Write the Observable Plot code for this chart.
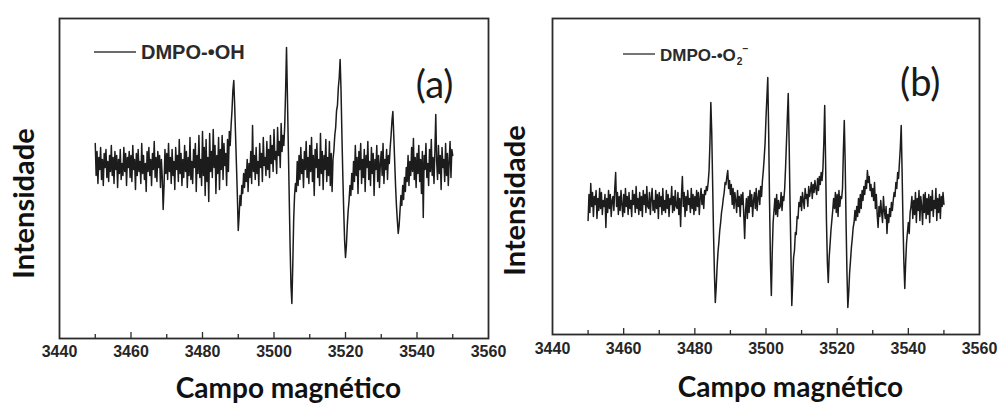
<!DOCTYPE html>
<html><head><meta charset="utf-8">
<script src="https://cdn.jsdelivr.net/npm/d3@7"></script>
<script src="https://cdn.jsdelivr.net/npm/@observablehq/plot@0.6"></script>
<style>
html,body{margin:0;padding:0;background:#fff;}
body{width:998px;height:403px;overflow:hidden;position:relative;}
#pa{position:absolute;left:0;top:0;}
#pb{position:absolute;left:500px;top:0;}
</style></head>
<body><div id="pa"></div><div id="pb"></div>
<script>
// Sampling grid of the field sweep (G)
const fieldStart = 3450;
const fieldStep = 0.25;
const xTickLabels = [3440, 3460, 3480, 3500, 3520, 3540, 3560];
const xMinorTicks = [3450, 3470, 3490, 3510, 3530, 3550];
const xMajorTicks = [3460, 3480, 3500, 3520, 3540];
const xTitle = "Campo magnético";
const yTitle = "Intensidade";

// (a) DMPO-•OH spectrum (arbitrary intensity units)
const intensityA = [
  22, -10, 14, -18, 8, -4, 18, -14, 6, -20, 12, -2, 16, -12, 4, -16, 10, -6, 20, -10,
  8, -18, 14, -4, 10, -22, 6, -8, 16, -14, 2, -10, 18, -6, 12, -20, 8, -2, 14, -12,
  10, -16, 20, -4, 6, -24, 12, -10, 16, -6, 4, -18, 22, -8, 10, -14, 2, -26, 14, -6,
  18, -10, 6, -20, 12, -4, 24, -12, 8, -16, 14, -2, 10, -22, 6, -12, -44, -20, 16, -8,
  12, -14, 22, -6, 8, -18, 16, -10, 4, -24, 18, -4, 10, -16, 26, -8, 12, -20, 6, -12,
  20, -6, 14, -22, 8, -10, 28, -14, 4, -18, 16, -2, 22, -26, 10, -8, 30, -12, 6, -20,
  34, -10, 18, -30, 26, -16, 8, -36, 32, -6, 14, -12, 36, -2, 20, -28, 10, -8, 28, -24,
  16, -4, 30, -14, 22, 0, 12, -20, 26, -6, 34, 20, 40, 55, 75, 85, 60, 30, 0, -30,
  -65, -50, -30, -40, -20, -28, -8, -22, -4, -16, 6, -26, 2, -12, 14, -18, 40, -6, 10, -14,
  18, -8, 4, -20, 22, -2, 12, -16, 28, 0, 8, -10, 24, -4, 16, -12, 30, 2, 20, -6,
  36, 6, 14, -8, 38, 10, 24, -2, 42, 14, 30, 20, 40, 75, 118, 70, 20, -30, -80, -120,
  -138, -100, -55, -30, -18, -26, 4, -20, 10, -14, 18, -8, 6, -22, 14, -4, 24, -12, 8, -18,
  20, -6, 28, -16, 10, -30, 16, -2, 22, -12, 6, -20, 32, -8, 14, -24, 10, -4, 26, -16,
  8, -10, 24, -20, 12, -26, 6, 15, 30, 38, 55, 60, 78, 88, 106, 75, 30, -10, -45, -75,
  -92, -80, -60, -45, -35, -20, -30, -8, -24, 4, -16, 20, -10, 8, -28, 14, -4, 22, -18, 6,
  -12, 16, -26, 10, -2, 24, -14, 4, -20, 18, -8, 12, -30, 6, -4, 20, -16, 10, -22, 2,
  14, -10, 22, -18, 6, -4, 16, -14, 10, 2, 18, 30, 45, 54, 30, 5, -20, -40, -55, -68,
  -60, -45, -30, -40, -20, -34, -12, -26, -2, -16, 10, -20, 4, -10, 18, -6, 27, -14, 8, -22,
  12, -8, 20, -16, 6, -28, 14, -52, 10, -4, 22, -12, 2, -20, 16, -6, 26, -10, 8, -18,
  14, 51, 4, -14, 20, -8, 10, -24, 18, -2, 6, -16, 22, -10, 12, -20, 4, 24, -12, 16,
  10
];

// (b) DMPO-•O2− spectrum
const intensityB = [
  -18, 8, -10, 19, -4, 10, -14, 6, -2, 12, -16, 4, -8, 14, -6, 10, -12, 2, -4, 8,
  -25, 4, -10, 12, -6, 8, -14, 2, 6, -8, 14, 30, -4, 10, -12, 6, -8, 12, -2, -14,
  8, -10, 14, -4, 6, -12, 10, -6, 2, -14, 12, -2, 8, -10, 16, -6, 4, -12, 10, -8,
  6, -14, 12, -2, 8, -10, 16, -4, -6, 10, -12, 4, 14, -8, 2, -10, 12, -6, 8, -16,
  10, -4, 6, -12, 14, -8, 2, -10, 12, -6, 8, -14, 4, -2, 16, -10, 6, -8, 12, -4,
  -6, 10, -12, 4, -24, 8, 26, -4, 10, -14, 6, -8, 12, -2, 4, -10, 14, -6, 8, -12,
  6, -8, 12, -4, 10, -12, 4, 14, -2, 8, -6, 12, 8, 16, 12, 20, 32, 60, 100, 70,
  20, -30, -70, -100, -85, -65, -50, -40, -28, -20, -10, -4, 4, 10, 20, 18, 26, 32, 14, 22,
  8, 18, -2, 14, -6, 10, 2, -10, 12, -4, 6, -14, 8, -2, 10, -12, -36, -8, 4, -16,
  6, -10, 12, -4, 8, -14, 2, 10, -6, 14, -8, 4, 12, -2, 16, 6, 22, 32, 45, 60,
  85, 105, 125, 70, 0, -60, -93, -50, -20, -8, 4, -12, 8, -14, 2, -6, -4, 10, -8, 6,
  2, 14, 35, 60, 85, 109, 60, 0, -50, -103, -80, -55, -48, -30, -32, -14, -16, 0, -4, 6,
  -8, 10, 2, -6, 14, 4, 8, -4, 16, 6, 12, 20, 4, 18, 10, 22, 14, 8, 24, 12,
  26, 18, 30, 22, 34, 60, 97, 40, -20, -60, -80, -55, -42, -28, -18, -8, 4, -6, 10, -10,
  8, -14, 12, -4, 6, 4, 14, 52, 82, 40, -20, -70, -105, -90, -70, -58, -45, -36, -25, -20,
  -8, -18, -4, -14, 4, -10, 8, -6, 12, 2, 16, 8, 22, 14, 32, 20, 26, 12, 18, 6,
  14, 2, 20, -6, 8, -12, -25, -4, -14, 2, -10, -20, 6, -8, -16, -4, -31, -12, -20, -6,
  -14, 0, -8, 2, 10, 6, 20, 14, 30, 24, 40, 55, 77, 30, -20, -60, -86, -60, -40, -30,
  -20, -31, -10, -4, 6, -16, 2, -12, 10, -20, 4, -8, 12, -18, 6, -4, -22, 8, -10, 10,
  -16, 4, -12, 8, -20, 6, -8, 12, -14, 2, -6, 14, -18, 4, -10, 8, -16, 6, -4, 10,
  -2
];

const legendA = [{text: "DMPO-•OH"}];
const legendB = [{text: "DMPO-•O"}, {text: "2", sub: true}, {text: "−", sup: true}];

function legendMark(cfg, parts) {
  return (index, scales, values, dim) => {
    const x0 = dim.marginLeft + cfg.dx, y0 = dim.marginTop + cfg.dy;
    const g = d3.create("svg:g");
    g.append("line").attr("x1", x0).attr("x2", x0 + cfg.len).attr("y1", y0).attr("y2", y0)
      .attr("stroke", "#3a3a3a").attr("stroke-width", 1.4);
    const t = g.append("text").attr("x", x0 + cfg.len + 5).attr("y", y0 + cfg.base)
      .attr("text-anchor", "start")
      .attr("font-family", "'Liberation Sans', Arial, sans-serif").attr("font-weight", "bold")
      .attr("font-size", cfg.size).attr("fill", "#2a2a2a");
    for (const p of parts) {
      const s = t.append("tspan").text(p.text);
      if (p.sub) s.attr("font-size", cfg.size * 0.6).attr("dy", 4).attr("dx", 1);
      if (p.sup) s.attr("font-size", cfg.size * 0.6).attr("dy", -13).attr("dx", 0);
    }
    return g.node();
  };
}

function panel(cfg) {
  const innerH = 403 - 18 - cfg.mb;
  return Plot.plot({
    width: cfg.width, height: 403,
    marginLeft: cfg.ml, marginRight: cfg.mr, marginTop: 18, marginBottom: cfg.mb,
    style: {background: "transparent", overflow: "visible", maxWidth: "none", color: "#262626",
      fontFamily: "'Liberation Sans', Arial, sans-serif"},
    x: {domain: [3440, 3560]},
    y: {domain: cfg.yDomain, axis: null},
    marks: [
      Plot.line(cfg.values, {x: (d, i) => fieldStart + i * fieldStep, y: d => d,
        stroke: "#1c1c1c", strokeWidth: 1.5}),
      Plot.frame({stroke: "#2b2b2b", strokeWidth: 1.8}),
      Plot.tickX(xMinorTicks, {x: d => d, insetTop: innerH - 4, stroke: "#2b2b2b", strokeWidth: 1.3}),
      Plot.tickX(xMajorTicks, {x: d => d, insetTop: innerH - 6, stroke: "#2b2b2b", strokeWidth: 1.3}),
      Plot.axisX({ticks: xTickLabels, tickSize: 0, tickPadding: cfg.tp, tickFormat: d => String(d),
        fontSize: 16, fontWeight: "bold", label: null}),
      Plot.text([xTitle], {text: d => d, frameAnchor: "bottom", textAnchor: "middle", lineAnchor: "middle",
        dx: cfg.xt[0], dy: cfg.xt[1], fontSize: 28, fontWeight: "bold", fontFamily: "Lato", fill: "#111"}),
      Plot.text([yTitle], {text: d => d, frameAnchor: "left", textAnchor: "middle", lineAnchor: "middle",
        rotate: -90, dx: cfg.yt[0], dy: cfg.yt[1],
        fontSize: 29, fontWeight: "bold", fontFamily: "Lato", fill: "#111"}),
      Plot.text([cfg.tag], {text: d => d, frameAnchor: "top-right", textAnchor: "end", lineAnchor: "middle",
        dx: cfg.tg[0], dy: cfg.tg[1], fontSize: 38, fontFamily: "Lato", fill: "#1a1a1a"}),
      legendMark(cfg.leg, cfg.legend)
    ]
  });
}

document.getElementById("pa").append(panel({
  width: 520, ml: 59, mr: 32, mb: 65, tp: 7, values: intensityA, yDomain: [-173, 147],
  xt: [14.5, 51], yt: [-35, 25], tag: "(a)", tg: [-35, 67],
  leg: {dx: 35, dy: 34, len: 42, base: 7, size: 20}, legend: legendA
}));
document.getElementById("pb").append(panel({
  width: 498, ml: 52, mr: 19, mb: 69, tp: 8, values: intensityB, yDomain: [-132, 184],
  xt: [24.5, 54], yt: [-37, 24], tag: "(b)", tg: [-39, 65],
  leg: {dx: 71, dy: 36, len: 32, base: 6.5, size: 17}, legend: legendB
}));
</script>
</body></html>
